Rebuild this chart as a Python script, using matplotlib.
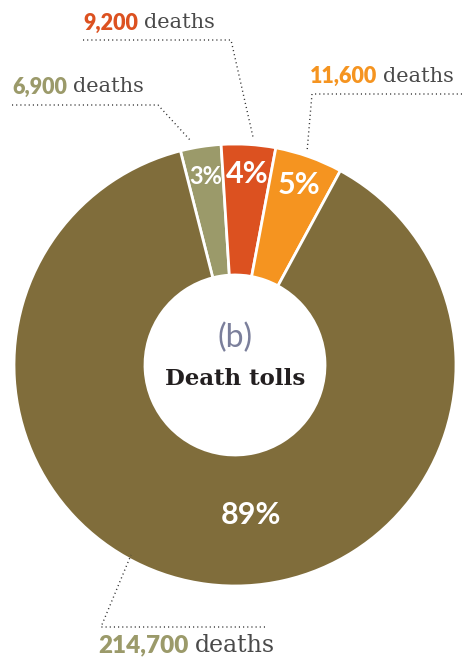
import matplotlib
matplotlib.use("Agg")
import matplotlib.pyplot as plt
import numpy as np

# data
groups = ["group a", "group b", "group c", "group d"]
deaths = [6900, 9200, 11600, 214700]
percents = [3, 4, 5, 89]
wedge_colors = ["#9b9a6a", "#dc5120", "#f59420", "#806d3b"]
number_colors = ["#9b9a6a", "#dc5120", "#f59420", "#9b9a6a"]

W, H = 462, 658
fig = plt.figure(figsize=(W / 100, H / 100), dpi=100)
ax = fig.add_axes([0, 0, 1, 1])

cx, cy, R = 235, 293, 221
ring = 131

wedges, _ = ax.pie(percents, colors=wedge_colors, center=(cx, cy), radius=R,
                   startangle=104.3, counterclock=False,
                   wedgeprops=dict(width=ring, edgecolor="white", linewidth=2))

ax.set_xlim(0, W)
ax.set_ylim(0, H)
ax.set_aspect("equal")
ax.axis("off")

# percent labels inside wedges
pct_sizes = [17, 22, 22]
for w, p, fs in zip(wedges[:3], percents[:3], pct_sizes):
    ang = np.deg2rad((w.theta1 + w.theta2) / 2)
    r = 191
    ax.text(cx + r * np.cos(ang), cy + r * np.sin(ang), f"{p}%",
            color="white", fontsize=fs, fontweight="bold", family="Lato",
            ha="center", va="center")
ang = np.deg2rad(-84)
ax.text(cx + 151 * np.cos(ang), cy + 151 * np.sin(ang), f"{percents[3]}%",
        color="white", fontsize=22, fontweight="bold", family="Lato",
        ha="center", va="center")

# centre text
ax.text(cx, 320, "(b)", color="#7b7f9b", fontsize=23, fontweight="normal",
        family="Lato", ha="center", va="center")
ax.text(cx, 279, "Death tolls", color="#231f20", fontsize=16.5,
        fontweight="bold", family="DejaVu Serif", ha="center", va="center")

# leader lines (dotted)
dot = dict(color="#333333", lw=1.0, linestyle=(0, (0.8, 2.2)))
leaders = [
    [(12, 553), (158, 553), (190, 518)],
    [(83, 618), (231, 618), (253, 521)],
    [(462, 564), (312, 564), (307, 506)],
    [(265, 31), (101, 31), (131, 103)],
]
for pts in leaders:
    xs, ys = zip(*pts)
    ax.plot(xs, ys, **dot)

# callout labels: bold coloured number + "deaths"
label_pos = [(12, 571, 15.5), (83, 635, 15.5), (310, 582, 15.5), (98, 13, 17.5)]
fig.canvas.draw()
renderer = fig.canvas.get_renderer()
for d, col, (x, y, fs) in zip(deaths, number_colors, label_pos):
    t = ax.text(x, y, f"{d:,}", color=col, fontsize=fs, fontweight="heavy",
                family="Lato", ha="left", va="center")
    bb = t.get_window_extent(renderer)
    x2 = ax.transData.inverted().transform((bb.x1, 0))[0] + 6
    ax.text(x2, y, "deaths", color="#4a4a4a", fontsize=fs - 0.5,
            family="DejaVu Serif", ha="left", va="center")

fig.savefig("out.png", dpi=100)
